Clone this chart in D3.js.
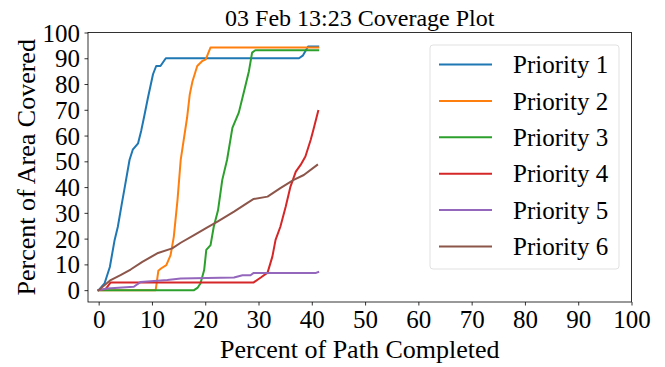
<!DOCTYPE html>
<html>
<head>
<meta charset="utf-8">
<script src="https://cdn.jsdelivr.net/npm/d3@7"></script>
<style>
  html, body { margin: 0; padding: 0; background: #fff; }
  svg { display: block; }
  text { font-family: "Liberation Serif", "Times New Roman", serif; fill: #000; }
</style>
</head>
<body>
<svg id="chart" width="665" height="367"></svg>
<script>
// Coverage curves: [percent of path completed, percent of area covered]
const priority1 = [[0,0],[1.1,2.6],[2.1,9],[3,19.5],[3.6,24.6],[4.3,33],[4.9,40],[5.8,50.6],[6.4,54.5],[7.4,57],[8,62],[8.6,68],[9.25,74.7],[10.2,83.8],[10.8,87],[11.6,87],[12.6,90],[20,90],[30,90],[37.6,90],[38.3,91],[39.3,94.6],[41.2,94.6]];
const priority2 = [[0,0],[10.7,0],[11.2,7.5],[11.7,8.4],[12.7,9.7],[13.5,13.6],[14.1,20.7],[14.8,35],[15.4,50.6],[16.6,67],[17.1,76],[17.6,81],[18.5,87],[19.5,89],[20.1,89.6],[21,94.2],[30,94.2],[41.2,94.2]];
const priority3 = [[0,0],[17.9,0],[18.6,1],[19.1,2.6],[19.8,7.8],[20.2,15.6],[21,17.5],[21.6,24.6],[22.4,31],[23.2,42.8],[24.1,50.6],[25.1,63],[26.3,68.9],[27.3,77.3],[28.2,85],[28.8,92.2],[29.4,93.1],[41.2,93.1]];
const priority4 = [[0,0],[1.3,0.4],[2.25,3],[29.1,3],[30.5,5],[31.7,6.8],[32.6,13],[33.2,19.5],[34.1,24.6],[35.1,32.4],[36,40.2],[37,46],[37.9,48.6],[38.8,51.9],[39.8,58.4],[40.3,62.3],[41.2,69.5]];
const priority5 = [[0,0],[1.6,0.6],[6.6,1.3],[7.9,3.2],[12.9,3.9],[15.4,4.5],[25.4,4.9],[27,5.8],[28.5,5.8],[29.1,6.7],[40.8,6.7],[41.2,7]];
const priority6 = [[0,0],[2.25,3.9],[4.1,5.8],[6,8],[8.2,11],[11,14.3],[13.8,16.2],[15.4,18.4],[17.9,21.4],[20.4,24.4],[22.3,26.6],[25.4,30.5],[28,34],[29.1,35.4],[31.7,36.3],[34.1,39.6],[36.6,42.8],[38.5,44.7],[41,48.6]];

const seriesNames = ["Priority 1","Priority 2","Priority 3","Priority 4","Priority 5","Priority 6"];
const seriesData = [priority1, priority2, priority3, priority4, priority5, priority6];
const seriesColors = ["#1f77b4","#ff7f0e","#2ca02c","#d62728","#9467bd","#8c564b"];
const xTicks = [0,10,20,30,40,50,60,70,80,90,100];
const yTicks = [0,10,20,30,40,50,60,70,80,90,100];
const titleText = "03 Feb 13:23 Coverage Plot";
const xLabel = "Percent of Path Completed";
const yLabel = "Percent of Area Covered";

const svg = d3.select("#chart");
const plot = { left: 88, right: 631.5, top: 32.5, bottom: 302 };

const x = d3.scaleLinear().domain([-2, 100]).range([plot.left, plot.right]);
const y = d3.scaleLinear().domain([-4.6, 100]).range([plot.bottom, plot.top]);

// Axes
const xAxis = svg.append("g")
  .attr("transform", `translate(0,${plot.bottom})`)
  .call(d3.axisBottom(x).tickValues(xTicks).tickSize(3.5).tickPadding(4).tickFormat(d3.format("d")));
const yAxis = svg.append("g")
  .attr("transform", `translate(${plot.left},0)`)
  .call(d3.axisLeft(y).tickValues(yTicks).tickSize(3.5).tickPadding(4.5).tickFormat(d3.format("d")));
[xAxis, yAxis].forEach(a => {
  a.select(".domain").remove();
  a.selectAll(".tick line").attr("stroke", "#000").attr("stroke-width", 0.8);
  a.selectAll(".tick text").style("font-family", '"Liberation Serif", serif').style("font-size", "25px").attr("fill", "#000");
});
xAxis.selectAll(".tick text").attr("dy", "0.72em");
yAxis.selectAll(".tick text").attr("dy", "0.34em");

// Curves
const line = d3.line().x(d => x(d[0])).y(d => y(d[1]));
svg.append("g").attr("fill", "none")
  .selectAll("path").data(seriesData).join("path")
  .attr("d", line)
  .attr("stroke", (d, i) => seriesColors[i])
  .attr("stroke-width", 2)
  .attr("stroke-linejoin", "round")
  .attr("stroke-linecap", "square");

// Frame
svg.append("rect")
  .attr("x", plot.left).attr("y", plot.top)
  .attr("width", plot.right - plot.left).attr("height", plot.bottom - plot.top)
  .attr("fill", "none").attr("stroke", "#000").attr("stroke-width", 0.8);

// Title and axis labels
svg.append("text").attr("x", (plot.left + plot.right) / 2).attr("y", 26)
  .attr("text-anchor", "middle").style("font-size", "24px").text(titleText);
svg.append("text").attr("x", (plot.left + plot.right) / 2).attr("y", 358)
  .attr("text-anchor", "middle").style("font-size", "26px").text(xLabel);
svg.append("text")
  .attr("transform", `translate(35,${(plot.top + plot.bottom) / 2}) rotate(-90)`)
  .attr("text-anchor", "middle").style("font-size", "26px").text(yLabel);

// Legend
const legend = svg.append("g");
legend.append("rect")
  .attr("x", 430).attr("y", 45).attr("width", 189).attr("height", 224)
  .attr("rx", 3).attr("fill", "#fff").attr("fill-opacity", 0.8)
  .attr("stroke", "#d9d9d9").attr("stroke-width", 0.8);
const rows = legend.selectAll("g.row").data(seriesNames).join("g")
  .attr("class", "row")
  .attr("transform", (d, i) => `translate(0,${64.5 + i * 36.4})`);
rows.append("line").attr("x1", 439).attr("x2", 492)
  .attr("stroke", (d, i) => seriesColors[i]).attr("stroke-width", 2);
rows.append("text").attr("x", 513).attr("dy", "0.35em")
  .style("font-size", "25px").text(d => d);
</script>
</body>
</html>
